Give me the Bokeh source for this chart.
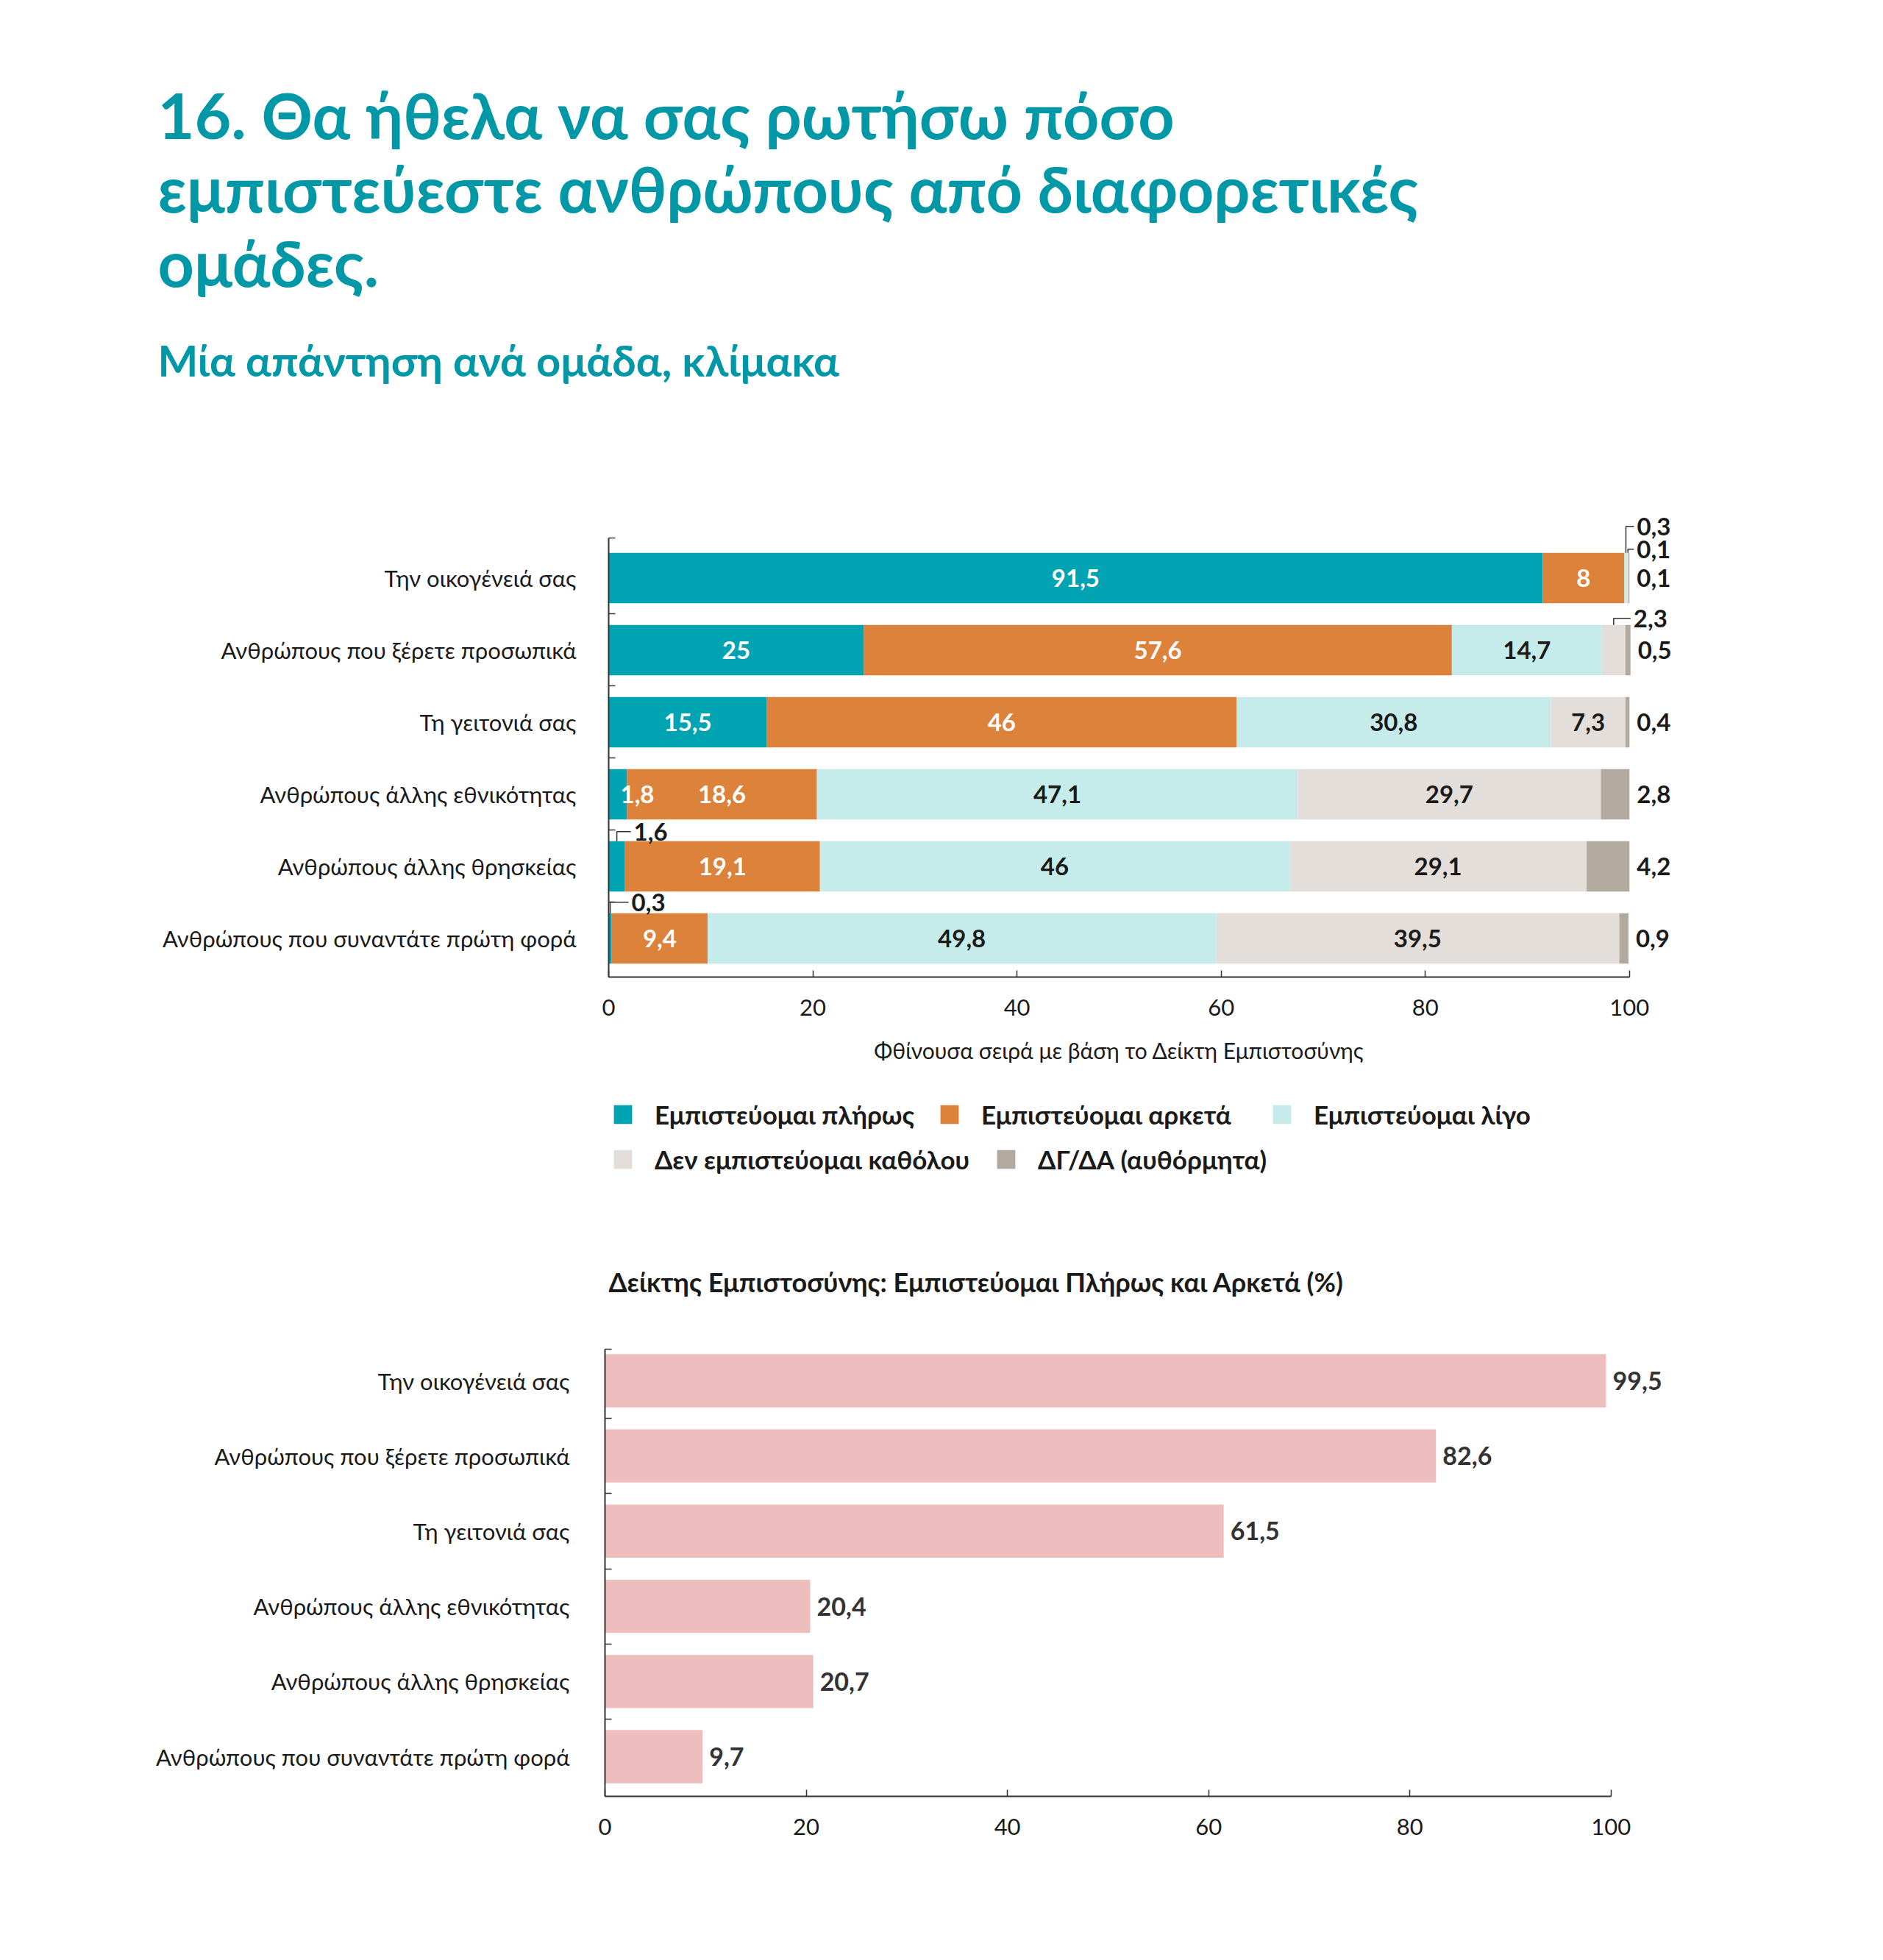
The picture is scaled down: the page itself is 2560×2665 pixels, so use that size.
from bokeh.plotting import figure
from bokeh.models import ColumnDataSource, Range1d, FixedTicker, Label, Legend, LegendItem
from bokeh.embed import file_html
from bokeh.resources import INLINE
from bokeh.core.properties import value

# ---------------- data ----------------
title_lines = ["16. Θα ήθελα να σας ρωτήσω πόσο",
               "εμπιστεύεστε ανθρώπους από διαφορετικές",
               "ομάδες."]
subtitle = "Μία απάντηση ανά ομάδα, κλίμακα"
categories = ["Την οικογένειά σας",
              "Ανθρώπους που ξέρετε προσωπικά",
              "Τη γειτονιά σας",
              "Ανθρώπους άλλης εθνικότητας",
              "Ανθρώπους άλλης θρησκείας",
              "Ανθρώπους που συναντάτε πρώτη φορά"]
series_names = ["Εμπιστεύομαι πλήρως", "Εμπιστεύομαι αρκετά", "Εμπιστεύομαι λίγο",
                "Δεν εμπιστεύομαι καθόλου", "ΔΓ/ΔΑ (αυθόρμητα)"]
fully = [91.5, 25, 15.5, 1.8, 1.6, 0.3]
enough = [8, 57.6, 46, 18.6, 19.1, 9.4]
little = [0.3, 14.7, 30.8, 47.1, 46, 49.8]
not_at_all = [0.1, 2.3, 7.3, 29.7, 29.1, 39.5]
dkna = [0.1, 0.5, 0.4, 2.8, 4.2, 0.9]
x_axis_label = "Φθίνουσα σειρά με βάση το Δείκτη Εμπιστοσύνης"
index_title = "Δείκτης Εμπιστοσύνης: Εμπιστεύομαι Πλήρως και Αρκετά  (%)"
index_values = [99.5, 82.6, 61.5, 20.4, 20.7, 9.7]
x_ticks = [0, 20, 40, 60, 80, 100]

# ---------------- style ----------------
COLORS = ["#00A3B1", "#DC823B", "#C5EBEB", "#E3DEDA", "#B3AA9F"]
PINK = "#EEBEBF"
TEAL = "#0097A7"
DARK = "#1a1a1a"
FONT = "Lato"
PAGE_W = 2544

# callouts: (row, series, label dx px from segment centre, label rise px above bar top)
CALLOUTS = [(0, 2, 15, 36), (0, 3, 12, 5), (1, 3, 27, 9), (4, 0, 23, 13), (5, 0, 29, 15)]
# legend entries: x of swatch left, y of row centre (page px, relative to a nominal frame left of 824)
LEGEND_POS = [(833, 1528), (1277, 1528), (1729, 1528), (833, 1589), (1354, 1589)]


def fmt(v):
    return f"{v:g}".replace(".", ",")


def style_axes(p, standoff_y):
    p.outline_line_color = None
    p.xgrid.visible = False
    p.ygrid.visible = False
    for ax in (p.xaxis, p.yaxis):
        ax.axis_line_width = 2
        ax.axis_line_color = "#333333"
        ax.major_label_text_font = FONT
        ax.major_label_text_font_size = "31px"
        ax.major_label_text_color = DARK
    p.xaxis.ticker = FixedTicker(ticks=x_ticks)
    p.xaxis.bounds = (0, 100)
    p.xaxis.major_tick_in = 9
    p.xaxis.major_tick_out = 0
    p.xaxis.major_tick_line_width = 1.5
    p.xaxis.major_tick_line_color = "#333333"
    p.xaxis.minor_tick_line_color = None
    p.xaxis.major_label_standoff = 30
    p.yaxis.major_tick_line_color = None
    p.yaxis.major_tick_in = 0
    p.yaxis.major_tick_out = 0
    p.yaxis.minor_tick_in = 9
    p.yaxis.minor_tick_out = 0
    p.yaxis.minor_tick_line_width = 1.5
    p.yaxis.minor_tick_line_color = "#333333"
    p.yaxis.major_label_standoff = standoff_y
    p.yaxis.major_label_overrides = {i: c for i, c in enumerate(categories)}


rows = list(range(len(categories)))

# ================= figure A : headline =================
HA = 625
pa = figure(frame_width=PAGE_W, frame_height=HA, x_range=Range1d(0, 1), y_range=Range1d(0, 1),
            x_axis_type=None, y_axis_type=None, min_border=0,
            output_backend="svg", toolbar_location=None)
pa.outline_line_color = None
pa.xgrid.visible = False
pa.ygrid.visible = False
TITLE_SIZE, SUB_SIZE = 86, 58
for txt, base in zip(title_lines, [191, 291, 392]):
    pa.add_layout(Label(x=214, y=HA - (base - 8) + 0.33 * TITLE_SIZE, x_units="screen", y_units="screen",
                        text=txt, text_font=FONT, text_font_style="bold",
                        text_font_size=f"{TITLE_SIZE}px", text_color=TEAL, text_baseline="alphabetic"))
pa.add_layout(Label(x=214, y=HA - (516 - 8) + 0.33 * SUB_SIZE, x_units="screen", y_units="screen",
                    text=subtitle, text_font=FONT, text_font_style="bold",
                    text_font_size=f"{SUB_SIZE}px", text_color=TEAL, text_baseline="alphabetic"))

# ================= figure B : stacked bars =================
PX1, PY1 = 13.88, 98.0
X_END1 = 115
Y_TOP1, AX_TOP1, Y_BOT1 = -1.056, -0.556, 5.536
FW1 = round(X_END1 * PX1)
FH1 = round((Y_BOT1 - Y_TOP1) * PY1)
L1, T1, B1 = 827, 57, 72
p1 = figure(frame_width=FW1, frame_height=FH1,
            x_range=Range1d(0, X_END1), y_range=Range1d(Y_BOT1, Y_TOP1),
            min_border_left=L1, min_border_right=PAGE_W - L1 - FW1,
            min_border_top=T1, min_border_bottom=B1,
            output_backend="svg", toolbar_location=None)
style_axes(p1, 44)
p1.yaxis.ticker = FixedTicker(ticks=rows, minor_ticks=[AX_TOP1, 0.5, 1.5, 2.5, 3.5, 4.5])
p1.yaxis.bounds = (AX_TOP1, Y_BOT1)

BAR_H = 0.7
stack = [fully, enough, little, not_at_all, dkna]
lefts = [0.0] * len(rows)
bounds = []
for k, ser in enumerate(stack):
    rights = [l + v for l, v in zip(lefts, ser)]
    src = ColumnDataSource(dict(y=rows, left=lefts, right=rights))
    p1.hbar(y="y", left="left", right="right", height=BAR_H, source=src,
            fill_color=COLORS[k], line_color=None)
    bounds.append((lefts, rights))
    lefts = rights

call_keys = {(c[0], c[1]) for c in CALLOUTS}
centre = dict(x=[], y=[], text=[], color=[])
inleft = dict(x=[], y=[], text=[], color=[])
outside = dict(x=[], y=[], text=[])
for k, ser in enumerate(stack):
    l_arr, r_arr = bounds[k]
    for i in rows:
        v = ser[i]
        col = "white" if k < 2 else DARK
        if k == 4:
            outside["x"].append(r_arr[i]); outside["y"].append(i); outside["text"].append(fmt(v))
        elif (i, k) in call_keys:
            continue
        elif v < 4:
            inleft["x"].append(l_arr[i]); inleft["y"].append(i); inleft["text"].append(fmt(v)); inleft["color"].append(col)
        else:
            centre["x"].append((l_arr[i] + r_arr[i]) / 2); centre["y"].append(i)
            centre["text"].append(fmt(v)); centre["color"].append(col)

common = dict(text_font=value(FONT), text_font_style="bold", text_font_size="33px",
              text_baseline="middle")
p1.text(x="x", y="y", text="text", text_color="color", text_align="center",
        source=ColumnDataSource(centre), **common)
p1.text(x="x", y="y", text="text", text_color="color", text_align="left", x_offset=16,
        source=ColumnDataSource(inleft), **common)
p1.text(x="x", y="y", text="text", text_color=DARK, text_align="left", x_offset=10,
        source=ColumnDataSource(outside), **common)

cl = dict(x=[], y=[], text=[])
lx, ly = [], []
for (i, k, dx, rise) in CALLOUTS:
    l_arr, r_arr = bounds[k]
    cx = (l_arr[i] + r_arr[i]) / 2
    top = i - BAR_H / 2
    yl = top - rise / PY1
    xl = cx + dx / PX1
    cl["x"].append(xl); cl["y"].append(yl); cl["text"].append(fmt(stack[k][i]))
    lx.append([cx, cx, xl - 4 / PX1])
    ly.append([top, yl, yl])
p1.multi_line(xs=lx, ys=ly, line_color="#333333", line_width=1.5)
p1.text(x="x", y="y", text="text", text_color=DARK, text_align="left",
        source=ColumnDataSource(cl), **common)

# ================= figure C : legend + index chart =================
PX2, PY2 = 13.68, 102.2
X_END2 = 115
C_START = 8 + HA + T1 + FH1 + B1          # page y where this figure starts
ROW0_Y, FRAME_BOTTOM = 1885, 2450          # page y of first bar centre / x axis
L2, T2, B2 = 822, 0, 153
frame_top = C_START + T2
Y_TOP2, AX_TOP2 = -(ROW0_Y - frame_top) / PY2, -0.42
Y_BOT2 = (FRAME_BOTTOM - ROW0_Y) / PY2
FW2 = round(X_END2 * PX2)
FH2 = FRAME_BOTTOM - frame_top
NOM_LEFT = 824
p2 = figure(frame_width=FW2, frame_height=FH2,
            x_range=Range1d(0, X_END2), y_range=Range1d(Y_BOT2, Y_TOP2),
            min_border_left=L2, min_border_right=PAGE_W - L2 - FW2,
            min_border_top=T2, min_border_bottom=B2,
            output_backend="svg", toolbar_location=None)
style_axes(p2, 48)
p2.yaxis.ticker = FixedTicker(ticks=rows, minor_ticks=[AX_TOP2, 0.5, 1.5, 2.5, 3.5, 4.5])
p2.yaxis.bounds = (AX_TOP2, Y_BOT2)

src2 = ColumnDataSource(dict(y=rows, right=index_values, text=[fmt(v) for v in index_values]))
p2.hbar(y="y", left=0, right="right", height=0.707, source=src2, fill_color=PINK, line_color=None)
p2.text(x="right", y="y", text="text", text_color="#333333", text_align="left", x_offset=9,
        text_font=value(FONT), text_font_style="bold", text_font_size="34px",
        text_baseline="middle", source=src2)

# x-axis title of the stacked chart (sits in this figure's top area)
p2.add_layout(Label(x=(829 + 2217) / 2 - NOM_LEFT, y=FRAME_BOTTOM - 1435, x_units="screen", y_units="screen",
                    text=x_axis_label, text_font=FONT, text_font_style="normal",
                    text_font_size="30px", text_color=DARK, text_align="center",
                    text_baseline="middle"))
p2.add_layout(Label(x=829 - NOM_LEFT, y=FRAME_BOTTOM - 1750, x_units="screen", y_units="screen",
                    text=index_title, text_font=FONT, text_font_style="bold",
                    text_font_size="36px", text_color=DARK, text_baseline="middle"))

# legend swatches (zero-width bars, one per series, used only as legend keys)
leg_r = [p2.hbar(y=[0], left=[0], right=[0], height=0.0, fill_color=c, line_color=None)
         for c in COLORS]
leg_style = dict(orientation="horizontal", glyph_width=31, glyph_height=32, label_height=32,
                 label_standoff=28, padding=0, margin=0,
                 border_line_color=None, background_fill_alpha=0,
                 label_text_font=FONT, label_text_font_style="bold",
                 label_text_font_size="35px", label_text_color=DARK)
for k, (lx_page, cy_page) in enumerate(LEGEND_POS):
    leg = Legend(items=[LegendItem(label=series_names[k], renderers=[leg_r[k]])],
                 location=(lx_page - NOM_LEFT, FRAME_BOTTOM - (cy_page + 16)), **leg_style)
    p2.add_layout(leg)

open("out.html", "w").write(file_html([pa, p1, p2], INLINE))
